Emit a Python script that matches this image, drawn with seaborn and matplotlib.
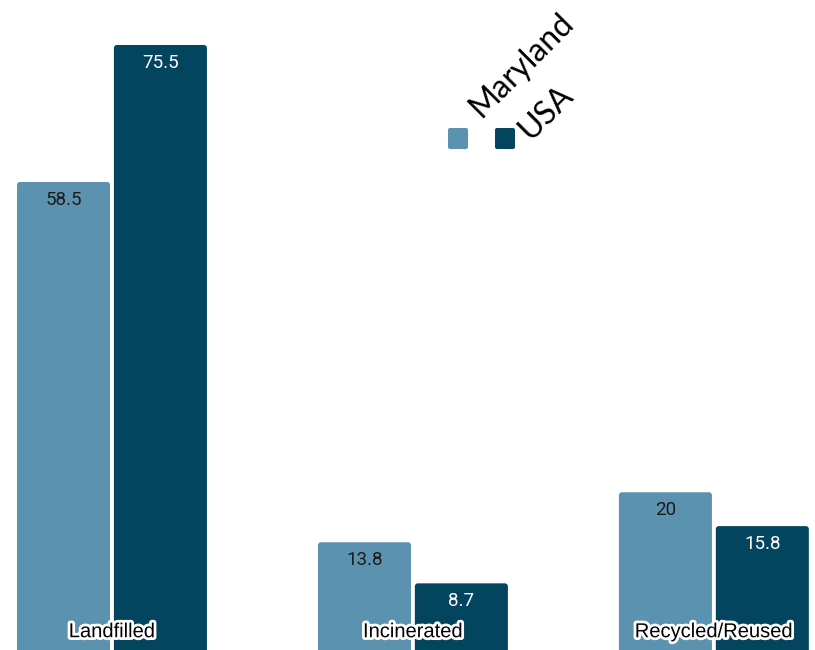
import matplotlib
matplotlib.use("Agg")
import matplotlib.pyplot as plt
import seaborn as sns
import pandas as pd
from matplotlib.patches import FancyBboxPatch
import matplotlib.patheffects as pe

categories = ["Landfilled", "Incinerated", "Recycled/Reused"]
series = ["Maryland", "USA"]
maryland = [58.5, 13.8, 20]
usa = [75.5, 8.7, 15.8]
colors = ["#5b92b0", "#03445f"]
label_colors = ["#1b1b1b", "#ffffff"]

df = pd.DataFrame({
    "category": categories * 2,
    "value": maryland + usa,
    "series": [series[0]] * 3 + [series[1]] * 3,
})

sns.set_theme(style="white")
W, H = 815, 650
fig = plt.figure(figsize=(W / 100, H / 100), dpi=100)
ax = fig.add_axes([0, 0, 1, 1])

sns.barplot(data=df, x="category", y="value", hue="series", order=categories,
            hue_order=series, palette=colors, width=0.644, gap=0.04,
            legend=False, ax=ax, saturation=1)

ax.set_xlim(-0.372, 2.336)
ax.set_ylim(0.43, 81.08)
ax.axis("off")

# units per pixel
upx_x = (2.336 + 0.372) / W
upx_y = (81.08 - 0.43) / H

# replace bars with rounded versions
patches = list(ax.patches)
for p in patches:
    x, y = p.get_x(), p.get_y()
    w, h = p.get_width(), p.get_height()
    fc = p.get_facecolor()
    p.set_visible(False)
    r = 3 * upx_x
    fb = FancyBboxPatch((x, y), w, h,
                        boxstyle=f"round,pad=0,rounding_size={r}",
                        mutation_aspect=upx_y / upx_x,
                        facecolor=fc, edgecolor="none", zorder=2)
    ax.add_patch(fb)

# value labels
for si, (vals, tc) in enumerate(zip([maryland, usa], label_colors)):
    cont = ax.containers[si]
    for bar, v in zip(cont, vals):
        cx = bar.get_x() + bar.get_width() / 2
        ax.annotate(f"{v:g}", (cx, v), xytext=(0, -13), textcoords="offset points",
                    ha="center", va="center", color=tc, fontsize=13.5,
                    family=["Roboto", "DejaVu Sans"], zorder=4)

# category labels
for i, c in enumerate(categories):
    t = ax.text(i, 2.7, c, ha="center", va="center", fontsize=14.5,
                family=["Liberation Sans", "DejaVu Sans"], color="black", zorder=5)
    t.set_path_effects([pe.withStroke(linewidth=4, foreground="white")])

# legend (manual)
sq = [(448, 128), (495, 128)]
for (px, py), col in zip(sq, colors):
    fb = FancyBboxPatch((px / W, 1 - (py + 21) / H), 20 / W, 21 / H,
                        boxstyle=f"round,pad=0,rounding_size={2 / W}",
                        mutation_aspect=W / H,
                        transform=fig.transFigure, facecolor=col,
                        edgecolor="none")
    fig.add_artist(fb)

anchors = [(481, 119), (530, 141)]
for (px, py), name in zip(anchors, series):
    fig.text(px / W, 1 - py / H, name, rotation=45, rotation_mode="anchor",
             ha="left", va="baseline", fontsize=23,
             family=["Lato", "DejaVu Sans"], color="black")

fig.savefig("out.png", dpi=100)
